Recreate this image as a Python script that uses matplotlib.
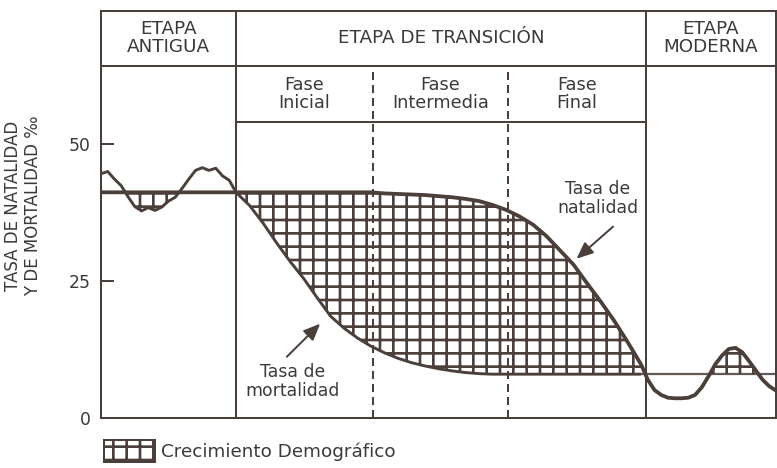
import matplotlib
matplotlib.use("Agg")
import matplotlib.pyplot as plt
import numpy as np
from matplotlib.patches import Patch

# posicion horizontal (0 = inicio etapa antigua, 100 = borde derecho)
posicion = [0, 1, 2, 3, 4, 5, 6, 7, 8, 9, 10, 11, 12, 13, 14, 15, 16, 17, 18, 19, 20,
            22, 24, 26, 28, 30, 32, 34, 36, 38, 40, 42, 44, 46, 48, 50, 52, 54, 56, 58,
            60, 62, 64, 66, 68, 70, 72, 74, 76, 78, 80,
            81, 82, 83, 84, 85, 86, 87, 88, 89, 90, 91, 92, 93, 94, 95, 96, 97, 98, 99, 100]

natalidad = [41.2] * 21 + \
            [41.2, 41.2, 41.2, 41.2, 41.2, 41.2, 41.2, 41.2, 41.2, 41.2,
             41.0, 40.9, 40.8, 40.7, 40.5, 40.3, 40.0, 39.6, 38.9,
             38.0, 36.8, 35.3, 33.2, 30.6, 28.0, 24.6, 21.3, 17.8, 13.9, 9.8] + \
            [7.0, 5.1, 4.2, 3.7, 3.6, 3.6, 3.7, 4.2, 5.6, 7.6,
             9.8, 11.4, 12.6, 12.8, 12.0, 10.4, 8.7, 7.0, 5.8, 5.0]

mortalidad = [44.6, 45.0, 43.6, 42.4, 40.4, 38.6, 37.8, 38.4, 37.9, 38.5, 39.6,
              40.3, 41.9, 43.6, 45.2, 45.7, 45.2, 45.6, 44.2, 43.4, 41.2] + \
             [38.8, 35.6, 32.0, 28.6, 25.5, 22.0, 18.6, 16.4, 14.6, 13.1,
              11.9, 10.9, 10.1, 9.5, 9.0, 8.6, 8.3, 8.1, 8.0,
              8.0, 8.0, 8.0, 8.0, 8.0, 8.0, 8.0, 8.0, 8.0, 8.0, 8.0] + \
             [8.0] * 20

etapas = ["ETAPA\nANTIGUA", "ETAPA DE TRANSICIÓN", "ETAPA\nMODERNA"]
limites_etapas = [0, 20, 80.7, 100]
fases = ["Fase\nInicial", "Fase\nIntermedia", "Fase\nFinal"]
limites_fases = [20, 40.3, 60.3, 80.7]
ticks_y = [0, 25, 50]

col = "#4a3f3a"
txt = "#3a3a3a"

plt.rcParams["font.family"] = ["DejaVu Sans"]
plt.rcParams["hatch.linewidth"] = 2.4

fig = plt.figure(figsize=(777 / 80, 468 / 80), dpi=80)
ax = fig.add_axes([101 / 777, 50 / 468, 675 / 777, 407 / 468])
ax.set_xlim(0, 100)
ax.set_ylim(0, 74.3)

x = np.array(posicion)
nat = np.array(natalidad)
mor = np.array(mortalidad)

# crecimiento demografico (natalidad > mortalidad)
ax.fill_between(x, mor, nat, where=nat >= mor, interpolate=True,
                facecolor="none", edgecolor=col, hatch="+", linewidth=0)

ax.plot(x[:51], mor[:51], color=col, lw=2.6, solid_capstyle="butt")
ax.plot(x[50:], mor[50:], color=col, lw=2.0, alpha=0.85, solid_capstyle="butt")
ax.plot(x, nat, color=col, lw=3.4, solid_capstyle="butt")

# cuadricula de etapas y fases
for s in ax.spines.values():
    s.set_linewidth(1.8)
    s.set_color(col)
y_cab1, y_cab2 = 64.2, 54.0
ax.axhline(y_cab1, color=col, lw=1.8)
ax.hlines(y_cab2, limites_fases[0], limites_fases[-1], color=col, lw=1.8)
for xv in limites_etapas[1:-1]:
    ax.axvline(xv, color=col, lw=1.8)
for xv in limites_fases[1:-1]:
    ax.vlines(xv, 0, y_cab1, color=col, lw=1.8, linestyles=(0, (4, 2.5)))

for i, e in enumerate(etapas):
    xc = (limites_etapas[i] + limites_etapas[i + 1]) / 2
    ax.text(xc, 69.3, e, ha="center", va="center", fontsize=16.5, color=txt,
            linespacing=1.0)
for i, f in enumerate(fases):
    xc = (limites_fases[i] + limites_fases[i + 1]) / 2
    ax.text(xc, 59.2, f, ha="center", va="center", fontsize=16, color=txt,
            linespacing=1.02)

# anotaciones
ax.text(73.6, 40.0, "Tasa de\nnatalidad", ha="center", va="center",
        fontsize=15.5, color=txt, linespacing=1.08)
ax.annotate("", xy=(70.2, 28.8), xytext=(76.1, 35.2),
            arrowprops=dict(arrowstyle="-|>,head_length=0.7,head_width=0.3",
                            color=col, lw=1.8, mutation_scale=18))
ax.text(28.4, 6.6, "Tasa de\nmortalidad", ha="center", va="center",
        fontsize=15.5, color=txt, linespacing=1.08)
ax.annotate("", xy=(32.7, 17.5), xytext=(27.3, 10.9),
            arrowprops=dict(arrowstyle="-|>,head_length=0.7,head_width=0.3",
                            color=col, lw=1.8, mutation_scale=18))

ax.set_xticks([])
ax.set_yticks(ticks_y)
ax.tick_params(axis="y", direction="in", length=12, width=1.8, pad=9,
               labelsize=15.5, colors=col, labelcolor=txt)

fig.text(23 / 777, 1 - 206 / 468, "TASA DE NATALIDAD\nY DE MORTALIDAD ‰",
         rotation=90, ha="center", va="center", fontsize=15, color=txt,
         multialignment="center", linespacing=1.12)

leg_patch = Patch(facecolor="white", edgecolor=col, hatch="+", linewidth=1.8,
                  label="Crecimiento Demográfico")
fig.legend(handles=[leg_patch], loc="center left",
           bbox_to_anchor=(104 / 777, 1 - 451 / 468), frameon=False,
           borderpad=0, borderaxespad=0, handlelength=2.8, handleheight=1.5,
           handletextpad=0.3, fontsize=16.5, labelcolor=txt)

fig.savefig("out.png", dpi=80, facecolor="white")
